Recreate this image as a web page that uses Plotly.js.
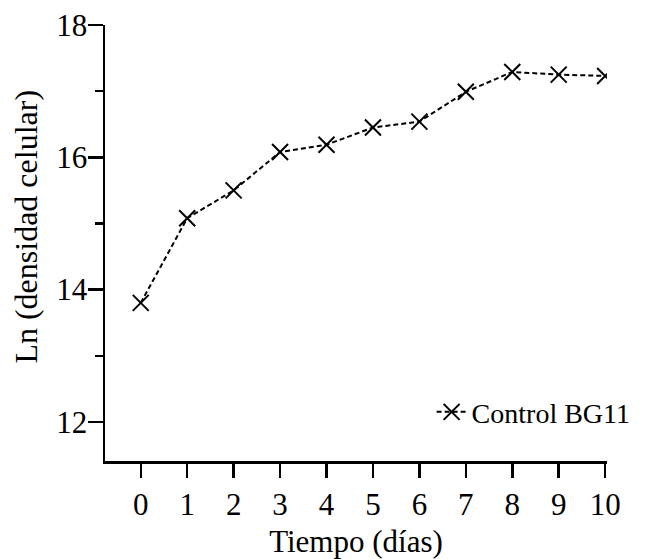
<!DOCTYPE html>
<html>
<head>
<meta charset="utf-8">
<script src="https://cdn.plot.ly/plotly-3.0.1.min.js"></script>
<style>
  html, body { margin: 0; padding: 0; background: #ffffff; }
  #chart { width: 651px; height: 559px; }
</style>
</head>
<body>
<div id="chart"></div>
<script>
// Growth curve: natural log of cell density over 10 days
const dias = [0, 1, 2, 3, 4, 5, 6, 7, 8, 9, 10];
const lnDensidad = [13.80, 15.08, 15.50, 16.08, 16.19, 16.45, 16.54, 16.99, 17.29, 17.25, 17.23];
const serieNombre = 'Control BG11';
const yTicks = [12, 14, 16, 18];
const tituloX = 'Tiempo (días)';
const tituloY = 'Ln (densidad celular)';

const serif = 'Liberation Serif, Times New Roman, serif';

const trace = {
  x: dias,
  y: lnDensidad,
  name: serieNombre,
  type: 'scatter',
  mode: 'lines+markers',
  line: { color: '#000000', width: 2, dash: '5px,3px' },
  marker: { symbol: 'x-thin-open', size: 16, color: '#000000', line: { color: '#000000', width: 2 } }
};

const layout = {
  width: 651,
  height: 559,
  margin: { l: 105, r: 44, t: 25, b: 98 },
  paper_bgcolor: '#ffffff',
  plot_bgcolor: '#ffffff',
  font: { family: serif, size: 31, color: '#000000' },
  showlegend: true,
  legend: {
    x: 1.057, y: 0.112, xanchor: 'right', yanchor: 'middle',
    bgcolor: 'rgba(0,0,0,0)',
    font: { family: serif, size: 28, color: '#000000' }
  },
  xaxis: {
    range: [-0.77, 10.04],
    tickvals: dias,
    ticktext: dias.map(String),
    showgrid: false, zeroline: false,
    showline: true, linecolor: '#000000', linewidth: 2.5,
    ticks: 'outside', ticklen: 14, tickwidth: 2.5, tickcolor: '#000000',
    tickfont: { family: serif, size: 31 },
    title: { text: tituloX, font: { family: serif, size: 31 }, standoff: 10 }
  },
  yaxis: {
    range: [11.41, 18],
    tickvals: yTicks,
    showgrid: false, zeroline: false,
    showline: true, linecolor: '#000000', linewidth: 2.5,
    ticks: 'outside', ticklen: 15, tickwidth: 2.5, tickcolor: '#000000',
    ticklabelstandoff: -6,
    minor: { dtick: 1, tick0: 12, ticks: 'outside', ticklen: 8, tickwidth: 2.5, tickcolor: '#000000', showgrid: false },
    tickfont: { family: serif, size: 31 }
  },
  // vertical axis title, placed a little above the plot's centre
  annotations: [{
    text: tituloY,
    xref: 'paper', yref: 'paper',
    x: -0.157, y: 0.538,
    xanchor: 'center', yanchor: 'middle',
    textangle: -90,
    showarrow: false,
    font: { family: serif, size: 32, color: '#000000' }
  }]
};

Plotly.newPlot('chart', [trace], layout, { displayModeBar: false, staticPlot: true });
</script>
</body>
</html>
